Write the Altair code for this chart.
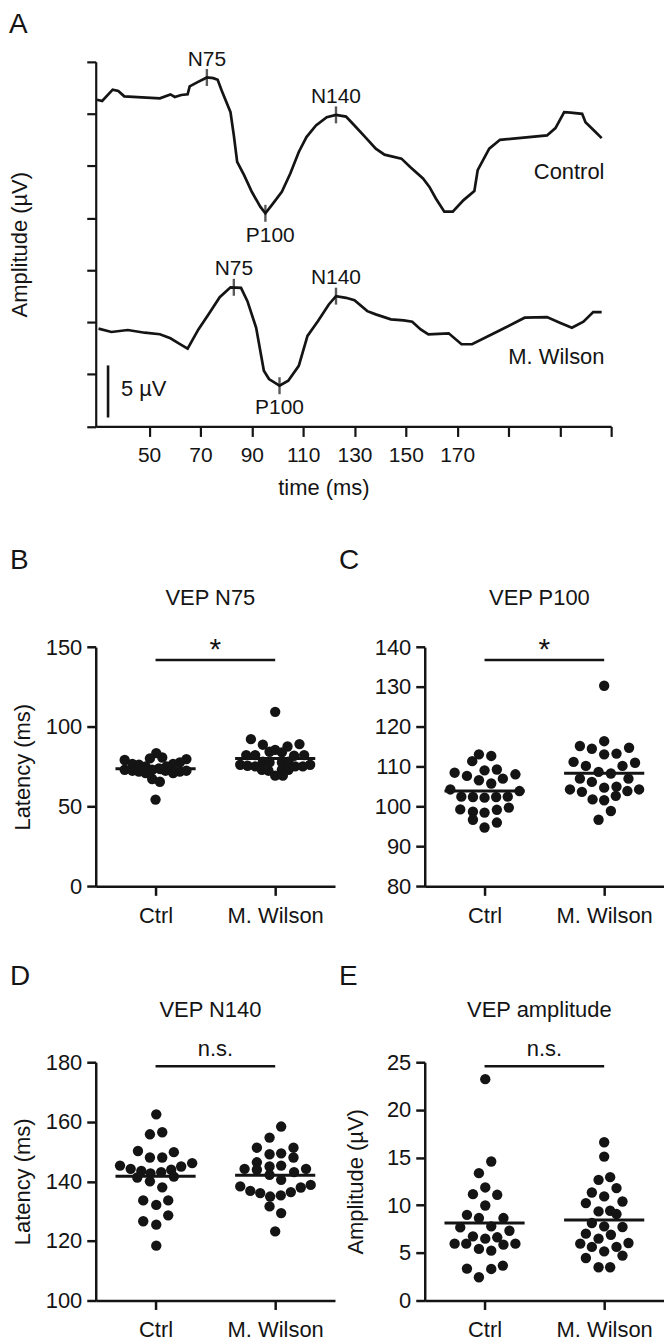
import json
import altair as alt
import pandas as pd

FONT = "Liberation Sans"
INK = "#141414"

# ---------------- Panel A: VEP waveforms ----------------
SERIES = ["Control", "M. Wilson"]
CTRL_T = [29.7, 31.7, 35.8, 38.0, 40.3, 54.2, 58.3, 60.0, 62.5, 65.0, 65.8, 68.7, 72.5, 75.0,
          76.7, 78.3, 81.7, 83.0, 84.3, 87.0, 90.0, 93.3, 95.3, 98.3, 101.7, 105.0, 108.3, 111.3,
          115.0, 119.2, 122.8, 126.7, 130.0, 134.2, 138.3, 141.7, 148.3, 151.7, 156.7, 159.2,
          161.7, 165.0, 168.3, 172.5, 176.7, 178.0, 182.5, 186.7, 205.0, 208.3, 211.7, 214.2,
          218.7, 220.0, 224.2, 226.3]
CTRL_A = [31.37, 31.25, 32.33, 32.2, 31.69, 31.5, 31.88, 31.63, 31.82, 31.88, 32.65, 33.03, 33.5,
          33.44, 33.28, 32.23, 30.17, 27.94, 25.4, 24.12, 22.53, 21.1, 20.46, 21.41, 22.53, 24.28,
          26.35, 27.78, 28.89, 29.69, 29.91, 29.75, 28.89, 27.78, 26.67, 26.09, 25.71, 24.91, 23.8,
          23.0, 21.89, 20.62, 20.62, 21.73, 22.59, 24.6, 26.67, 27.52, 27.94, 28.64, 30.17, 30.13,
          30.01, 29.21, 28.19, 27.68]
WIL_T = [30.3, 35.3, 41.7, 48.3, 54.2, 58.3, 61.7, 65.0, 69.2, 73.3, 77.5, 81.7, 85.8, 88.3, 91.7,
         94.7, 96.7, 100.8, 104.2, 108.3, 111.7, 115.8, 120.0, 122.8, 126.7, 130.0, 135.0, 138.3,
         144.2, 149.2, 152.5, 155.8, 158.8, 166.7, 171.7, 175.8, 186.7, 196.3, 205.0, 210.0,
         214.7, 219.2, 223.0, 226.3]
WIL_A = [9.39, 9.07, 9.26, 9.0, 8.85, 8.46, 7.96, 7.48, 9.32, 10.82, 12.41, 13.36, 13.3, 12.03,
         9.48, 5.35, 4.55, 3.91, 4.39, 5.82, 8.69, 10.12, 11.71, 12.51, 12.35, 12.12, 11.07, 10.76,
         10.28, 10.18, 10.06, 9.32, 8.85, 8.94, 7.89, 7.89, 9.23, 10.44, 10.5, 9.96, 9.48, 10.06,
         10.98, 10.98]

PEAK_SERIES = ["Control", "Control", "Control", "M. Wilson", "M. Wilson", "M. Wilson"]
PEAK_NAMES = ["N75", "P100", "N140", "N75", "P100", "N140"]
PEAK_T = [72.5, 95.3, 122.8, 83.0, 100.8, 122.8]
PEAK_A = [33.5, 20.46, 29.91, 13.36, 3.91, 12.51]
PEAK_LABEL_T = [72.5, 97.2, 122.8, 83.0, 100.8, 122.8]

SERIES_LABEL_T = [227.4, 227.4]
SERIES_LABEL_A = [23.8, 5.96]

TIME_TICKS = [50, 70, 90, 110, 130, 150, 170, 190, 210, 230]
TIME_LABELS = ["50", "70", "90", "110", "130", "150", "170", "", "", ""]
TIME_DOMAIN = [29.2, 230]
AMP_TICKS = [0, 5, 10, 15, 20, 25, 30, 35]
AMP_DOMAIN = [0, 35]

SCALEBAR_T = [34.0]
SCALEBAR_A0 = [0.86]
SCALEBAR_A1 = [5.86]
SCALEBAR_LABEL = ["5 µV"]
SCALEBAR_LABEL_T = [39.0]
SCALEBAR_LABEL_A = [2.97]

# ---------------- Panels B-E: individual latencies / amplitudes ----------------
GROUPS = ["Ctrl", "M. Wilson"]

N75_CTRL = [83.55, 80.2, 80.8, 79.2, 79.8, 76.7, 76.3, 76.7, 77.7, 73.1, 72.5, 71.9, 71.05, 73.1,
            74.0, 72.5, 71.05, 71.9, 72.5, 75.2, 75.2, 67.3, 65.6, 54.4, 72.5, 73.5]
N75_CTRL_OFF = [0.006, -0.047, 0.056, -0.258, 0.258, -0.194, -0.139, 0.147, 0.203, -0.258, -0.194,
                -0.139, -0.083, -0.028, 0.028, 0.083, 0.147, 0.203, 0.258, -0.083, 0.092, -0.028,
                0.036, 0.0, -0.042, 0.042]
N75_WIL = [109.4, 92.3, 88.8, 89.2, 85.6, 87.7, 84.4, 84.0, 82.3, 82.3, 81.9, 82.3, 76.25, 75.6,
           75.2, 78.1, 77.7, 77.7, 78.1, 75.2, 75.2, 76.25, 73.1, 72.5, 73.1, 73.1, 69.4, 69.4]
N75_WIL_OFF = [0.0, -0.203, -0.103, 0.203, 0.0, 0.103, -0.047, 0.056, -0.242, -0.167, 0.158, 0.242,
               -0.292, -0.231, -0.167, -0.103, -0.047, 0.056, 0.111, 0.167, 0.231, 0.292, -0.111,
               -0.056, 0.056, 0.111, 0.0, 0.064]

P100_CTRL = [113.1, 112.7, 111.4, 108.5, 107.7, 109.1, 109.3, 108.1, 106.6, 105.8, 107.0, 104.3,
             103.9, 102.5, 102.4, 102.25, 102.4, 102.5, 99.3, 98.7, 98.5, 99.2, 99.75, 96.7, 96.0,
             94.75]
P100_CTRL_OFF = [-0.047, 0.056, -0.103, -0.25, -0.147, 0.0, 0.103, 0.258, -0.047, 0.056, 0.153,
                 -0.286, 0.292, -0.194, -0.097, 0.0, 0.097, 0.194, -0.203, -0.097, 0.0, 0.103,
                 0.203, -0.097, 0.103, 0.0]
P100_WIL = [130.3, 115.2, 114.5, 116.4, 114.75, 113.1, 113.3, 111.2, 110.2, 110.2, 111.0, 108.7,
            108.3, 107.0, 106.2, 107.0, 104.3, 103.7, 104.75, 105.0, 103.9, 104.3, 101.8, 101.6,
            102.7, 98.9, 96.7]
P100_WIL_OFF = [0.0, -0.203, -0.103, 0.0, 0.208, 0.0, 0.103, -0.256, -0.153, 0.153, 0.258, -0.047,
                0.056, -0.203, -0.103, 0.203, -0.286, -0.186, 0.0, 0.103, 0.194, 0.292, -0.097,
                0.0, 0.097, 0.056, -0.047]

N140_CTRL = [162.5, 155.8, 156.5, 150.2, 148.0, 148.0, 149.8, 145.3, 144.2, 143.5, 142.7, 143.1,
             143.9, 145.0, 146.1, 141.3, 141.6, 140.0, 138.0, 133.6, 132.1, 133.6, 126.6, 125.45,
             128.6, 118.4]
N140_CTRL_OFF = [0.006, -0.047, 0.056, -0.147, -0.047, 0.056, 0.153, -0.297, -0.208, -0.119,
                 -0.042, 0.047, 0.131, 0.214, 0.306, -0.153, 0.153, -0.047, 0.056, -0.103, 0.006,
                 0.106, -0.103, 0.006, 0.106, 0.006]
N140_WIL = [158.4, 154.7, 151.3, 151.3, 149.1, 149.4, 148.0, 146.4, 145.0, 145.3, 144.2, 143.9,
            142.2, 143.1, 144.2, 140.5, 138.3, 136.8, 136.05, 134.9, 135.3, 136.4, 137.95, 138.8,
            131.6, 129.35, 123.2]
N140_WIL_OFF = [0.05, -0.047, -0.153, 0.153, -0.047, 0.05, 0.153, -0.153, -0.047, 0.05, -0.256,
                -0.153, -0.047, 0.158, 0.258, 0.05, -0.292, -0.208, -0.125, -0.042, 0.047, 0.131,
                0.214, 0.297, -0.047, 0.05, 0.0]

AMP_CTRL = [23.22, 14.58, 13.36, 11.86, 11.16, 11.09, 9.97, 8.99, 8.65, 8.65, 7.67, 7.78, 7.32,
            6.73, 6.49, 6.63, 5.96, 5.96, 5.41, 5.23, 5.86, 5.96, 3.35, 3.31, 3.66, 2.44]
AMP_CTRL_OFF = [0.006, 0.056, -0.047, 0.006, -0.097, 0.106, 0.006, -0.147, -0.047, 0.158, -0.203,
                0.056, 0.208, -0.097, 0.006, 0.106, -0.25, -0.153, -0.047, 0.056, 0.158, 0.258,
                -0.147, 0.056, 0.153, -0.047]
AMP_WIL = [16.6, 15.1, 12.66, 12.94, 11.33, 11.79, 10.92, 10.22, 10.39, 9.35, 9.42, 9.07, 8.13,
           7.78, 7.71, 7.01, 6.49, 6.9, 6.03, 5.96, 5.62, 5.16, 5.62, 4.46, 4.71, 3.49, 3.49]
AMP_WIL_OFF = [0.0, 0.0, -0.047, 0.05, -0.103, 0.103, 0.0, -0.153, 0.153, -0.047, 0.05, 0.103,
               -0.103, 0.0, 0.153, -0.153, -0.047, 0.056, 0.203, -0.2, -0.103, 0.0, 0.103, -0.153,
               0.153, -0.047, 0.05]

# ---------------- layout constants ----------------
COL_W = 240
A_W = 517
A_H = 365.7
ROW_GAP = 175.7
COL_GAP = 90
ROW2_TOP_PAD = 45.3


def panel_a():
    rows = []
    for s, ts, vs in [(SERIES[0], CTRL_T, CTRL_A), (SERIES[1], WIL_T, WIL_A)]:
        for i, (t, a) in enumerate(zip(ts, vs)):
            rows.append({"series": s, "i": i, "t": t, "a": a})
    wave = pd.DataFrame(rows)
    peaks = pd.DataFrame({"series": PEAK_SERIES, "name": PEAK_NAMES, "t": PEAK_T,
                          "a": PEAK_A, "lt": PEAK_LABEL_T})
    peaks["kind"] = [n[0] for n in PEAK_NAMES]
    slab = pd.DataFrame({"lab": SERIES, "t": SERIES_LABEL_T, "a": SERIES_LABEL_A})
    bar = pd.DataFrame({"t": SCALEBAR_T, "a0": SCALEBAR_A0, "a1": SCALEBAR_A1,
                        "lab": SCALEBAR_LABEL, "lt": SCALEBAR_LABEL_T, "la": SCALEBAR_LABEL_A})
    letter = pd.DataFrame({"l": ["A"]})

    label_expr = f"{json.dumps(TIME_LABELS)}[indexof({json.dumps(TIME_TICKS)}, datum.value)]"
    xs = alt.Scale(domain=TIME_DOMAIN, range=[0, A_W], nice=False, zero=False)
    ys = alt.Scale(domain=AMP_DOMAIN, nice=False, zero=False)
    xax = alt.Axis(values=TIME_TICKS, labelExpr=label_expr, grid=False, tickSize=10, tickWidth=2.2,
                   domainWidth=2.2, labelPadding=8, labelFontSize=21, labelFlush=False,
                   labelOverlap=False, title="time (ms)", titleFontSize=22, titleX=228.3,
                   titleY=68, titleBaseline="alphabetic", titleAlign="center")
    yax = alt.Axis(values=AMP_TICKS, labels=False, grid=False, tickSize=9, tickWidth=2.2,
                   domainWidth=2.2, title="Amplitude (µV)", titleFontSize=22, titleX=-76.7,
                   titleY=A_H / 2, titleAngle=270, titleBaseline="middle", titleAlign="center")

    def X(f):
        return alt.X(f, type="quantitative", scale=xs, axis=xax)

    def Y(f):
        return alt.Y(f, type="quantitative", scale=ys, axis=yax)

    lines = alt.Chart(wave).mark_line(color=INK, strokeWidth=2.7).encode(
        x=X("t"), y=Y("a"), detail="series:N", order="i:Q")
    ticks = alt.Chart(peaks).mark_tick(orient="vertical", size=17, thickness=2.4, color=INK).encode(
        x=X("t"), y=Y("a"))
    above = alt.Chart(peaks).transform_filter("datum.kind == 'N'").mark_text(
        baseline="alphabetic", align="center", dy=-12, fontSize=21, color=INK).encode(
        x=X("lt"), y=Y("a"), text="name:N")
    below = alt.Chart(peaks).transform_filter("datum.kind == 'P'").mark_text(
        baseline="alphabetic", align="center", dy=28.5, fontSize=21, color=INK).encode(
        x=X("lt"), y=Y("a"), text="name:N")
    series_txt = alt.Chart(slab).mark_text(baseline="alphabetic", align="right", fontSize=22,
                                           color=INK).encode(x=X("t"), y=Y("a"), text="lab:N")
    sbar = alt.Chart(bar).mark_rule(color=INK, strokeWidth=2.6).encode(
        x=X("t"), y=Y("a0"), y2="a1:Q")
    stxt = alt.Chart(bar).mark_text(baseline="alphabetic", align="left", fontSize=22,
                                    color=INK).encode(x=X("lt"), y=Y("la"), text="lab:N")
    let = alt.Chart(letter).mark_text(baseline="alphabetic", align="left", fontSize=28,
                                      color=INK).encode(x=alt.value(-87), y=alt.value(-29.3),
                                                        text="l:N")
    return alt.layer(lines, ticks, above, below, series_txt, sbar, stxt, let).properties(
        width=COL_W, height=A_H)


def scatter_panel(ctrl, ctrl_off, wil, wil_off, y_domain, y_ticks, title, letter, sig_y, sig_lab,
                  y_title, y_title_x, plot_h, top_pad, title_dy, letter_dy):
    rows = []
    for gi, (vals, offs) in enumerate([(ctrl, ctrl_off), (wil, wil_off)]):
        for v, o in zip(vals, offs):
            rows.append({"group": GROUPS[gi], "gx": gi + 1, "x": gi + 1 + o, "v": v})
    df = pd.DataFrame(rows)
    H = plot_h + top_pad
    label_expr = " : ".join(f"datum.value == {i + 1} ? '{g}'" for i, g in enumerate(GROUPS)) + " : ''"
    xs = alt.Scale(domain=[0.5, 2.5], nice=False, zero=False)
    ys = alt.Scale(domain=y_domain, range=[H, top_pad], nice=False, zero=False)
    xax = alt.Axis(values=[1, 2], labelExpr=label_expr, title=None, grid=False, tickSize=9,
                   tickWidth=2.5, domainWidth=2.5, labelPadding=10, labelFontSize=22,
                   labelFlush=False, labelOverlap=False)
    yax_kw = dict(values=y_ticks, grid=False, tickSize=9, tickWidth=2.5, domainWidth=2.5,
                  labelPadding=5, labelFontSize=22, labelFlush=False, labelOverlap=False)
    if y_title:
        yax = alt.Axis(title=y_title, titleFontSize=22, titleX=y_title_x,
                       titleY=top_pad + plot_h / 2, titleAngle=270, titleBaseline="middle",
                       titleAlign="center", **yax_kw)
    else:
        yax = alt.Axis(title=None, **yax_kw)

    def X(f):
        return alt.X(f, type="quantitative", scale=xs, axis=xax)

    def Y(f):
        return alt.Y(f, type="quantitative", scale=ys, axis=yax)

    pts = alt.Chart(df).mark_circle(size=108, color=INK, opacity=1).encode(x=X("x"), y=Y("v"))
    mean = alt.Chart(df).transform_aggregate(m="mean(v)", groupby=["gx"]).transform_calculate(
        x1="datum.gx - 0.335", x2="datum.gx + 0.335").mark_rule(
        color=INK, strokeWidth=3).encode(x=X("x1"), x2="x2:Q", y=Y("m"))
    sig_df = pd.DataFrame({"x1": [1], "x2": [2], "xm": [1.5], "y": [sig_y], "lab": [sig_lab]})
    sig = alt.Chart(sig_df).mark_rule(color=INK, strokeWidth=2.6).encode(
        x=X("x1"), x2="x2:Q", y=Y("y"))
    is_star = sig_lab == "*"
    sig_txt = alt.Chart(sig_df).mark_text(
        baseline="alphabetic", align="center", dy=-1 if is_star else -10,
        fontSize=30 if is_star else 22, color=INK).encode(x=X("xm"), y=Y("y"), text="lab:N")
    tdf = pd.DataFrame({"t": [title], "l": [letter]})
    ttl = alt.Chart(tdf).mark_text(baseline="alphabetic", align="center", fontSize=22,
                                   color=INK).encode(x=alt.value(115),
                                                     y=alt.value(top_pad + title_dy), text="t:N")
    let = alt.Chart(tdf).mark_text(baseline="alphabetic", align="left", fontSize=28,
                                   color=INK).encode(x=alt.value(-86),
                                                     y=alt.value(top_pad + letter_dy), text="l:N")
    return alt.layer(pts, mean, sig, sig_txt, ttl, let).properties(width=COL_W, height=H)


A = panel_a()
P = alt.Chart(pd.DataFrame({"v": [0]})).mark_point(opacity=0).encode(
    x=alt.X("v:Q", axis=None), y=alt.Y("v:Q", axis=None)).properties(width=1, height=1)
B = scatter_panel(N75_CTRL, N75_CTRL_OFF, N75_WIL, N75_WIL_OFF, [0, 150], [0, 50, 100, 150],
                  "VEP N75", "B", 141.9, "*", "Latency (ms)", -73.2, 240, ROW2_TOP_PAD, -42.7, -78.7)
C = scatter_panel(P100_CTRL, P100_CTRL_OFF, P100_WIL, P100_WIL_OFF, [80, 140],
                  [80, 90, 100, 110, 120, 130, 140], "VEP P100", "C", 136.75, "*", None, 0, 240,
                  ROW2_TOP_PAD, -42.7, -78.7)
D = scatter_panel(N140_CTRL, N140_CTRL_OFF, N140_WIL, N140_WIL_OFF, [100, 180],
                  [100, 120, 140, 160, 180], "VEP N140", "D", 178.66, "n.s.", "Latency (ms)",
                  -73.2, 239, 0, -45, -77.7)
E = scatter_panel(AMP_CTRL, AMP_CTRL_OFF, AMP_WIL, AMP_WIL_OFF, [0, 25], [0, 5, 10, 15, 20, 25],
                  "VEP amplitude", "E", 24.58, "n.s.", "Amplitude (µV)", -69, 239, 0, -45, -77.7)

chart = alt.concat(
    A, P, B, C, D, E, columns=2,
    spacing={"row": ROW_GAP, "column": COL_GAP},
    bounds="flush",
    align={"row": "each", "column": "each"},
).properties(
    padding={"left": 0, "top": 0, "right": 0, "bottom": 0},
    background="white",
).configure_view(stroke=None).configure_axis(
    labelFont=FONT, titleFont=FONT, labelColor=INK, titleColor=INK, domainColor=INK,
    tickColor=INK, titleFontWeight="normal",
).configure_text(font=FONT)

chart.save("out.html", embed_options={"renderer": "svg", "actions": False})
